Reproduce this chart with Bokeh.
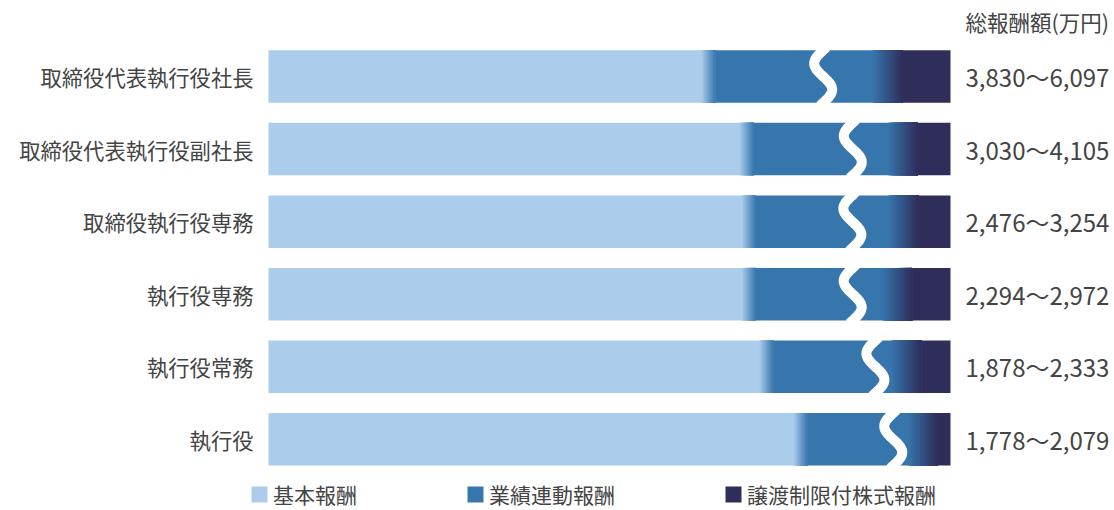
import numpy as np
from bokeh.plotting import figure
from bokeh.models import Range1d, ColumnDataSource, Legend, LegendItem
from bokeh.core.properties import value
from bokeh.embed import file_html
from bokeh.resources import INLINE

# ---------------- data ----------------
categories = ["取締役代表執行役社長", "取締役代表執行役副社長", "取締役執行役専務",
              "執行役専務", "執行役常務", "執行役"]
base_pay = [64.5, 70.1, 70.4, 70.4, 73.0, 78.0]          # 基本報酬 (%)
performance_pay = [26.3, 22.9, 22.7, 21.8, 20.5, 17.9]   # 業績連動報酬 (%)
stock_pay = [9.2, 7.0, 6.9, 7.8, 6.5, 4.1]               # 譲渡制限付株式報酬 (%)
total_ranges = ["3,830～6,097", "3,030～4,105", "2,476～3,254",
                "2,294～2,972", "1,878～2,333", "1,778～2,079"]
series_names = ["基本報酬", "業績連動報酬", "譲渡制限付株式報酬"]
header_text = "総報酬額(万円)"

# ---------------- style ----------------
FONT = "Noto Sans CJK JP"
TEXT_COLOR = "#444444"
C_BASE = "#abcdeb"
C_PERF = "#3776ad"
C_STOCK = "#2f2e5b"
BAR_H = 0.7235
GRAD1 = 2.1      # width of base->performance blend (data units)
GRAD2 = 4.4      # width of performance->stock blend
WAVE_FRAC = [0.64, 0.68, 0.67, 0.70, 0.78, 0.76]  # break mark placement inside performance segment
WAVE_AMP = 1.32

n = len(categories)
ypos = np.arange(n, dtype=float)
base = np.array(base_pay)
perf = np.array(performance_pay)
stock = np.array(stock_pay)
c1 = base
c2 = base + perf
c3 = c2 + stock

p = figure(width=1114, height=510, output_backend="svg", toolbar_location=None,
           x_range=Range1d(-39.296, 124.047), y_range=Range1d(5.981, -1.0474),
           min_border=0, outline_line_color=None)
p.xaxis.visible = False
p.yaxis.visible = False
p.xgrid.visible = False
p.ygrid.visible = False
p.background_fill_color = "white"
p.border_fill_color = "white"

src = ColumnDataSource(dict(y=ypos, z=np.zeros(n), c1=c1, c2=c2, c3=c3,
                            cat=categories, tot=total_ranges))
r_base = p.hbar(y="y", left="z", right="c1", height=BAR_H, source=src,
                fill_color=C_BASE, line_color=None)
r_perf = p.hbar(y="y", left="c1", right="c2", height=BAR_H, source=src,
                fill_color=C_PERF, line_color=None)
r_stock = p.hbar(y="y", left="c2", right="c3", height=BAR_H, source=src,
                 fill_color=C_STOCK, line_color=None)


def hex2rgb(h):
    h = h.lstrip("#")
    return np.array([int(h[i:i + 2], 16) for i in (0, 2, 4)], dtype=float)


def mix(a, b, t):
    ca, cb = hex2rgb(a), hex2rgb(b)
    c = ca + (cb - ca) * t
    return "#%02x%02x%02x" % tuple(int(round(v)) for v in c)


# gradient blends drawn as stacked strips
gl, gr, gt, gb, gc = [], [], [], [], []
for i in range(n):
    for (b, w, ca, cb, N) in ((c1[i], GRAD1, C_BASE, C_PERF, 14),
                              (c2[i], GRAD2, C_PERF, C_STOCK, 26)):
        start = b - w / 2
        for k in range(N):
            t = (k + 0.5) / N
            gl.append(start + w * k / N)
            gr.append(b + w / 2)
            gt.append(ypos[i] - BAR_H / 2)
            gb.append(ypos[i] + BAR_H / 2)
            gc.append(mix(ca, cb, t))
p.quad(left=gl, right=gr, top=gt, bottom=gb, fill_color=gc, line_color=None)

# white wavy break marks
xs, ys = [], []
tt = np.linspace(-0.06, 1.06, 60)
for i in range(n):
    xc = c1[i] + perf[i] * WAVE_FRAC[i]
    top = ypos[i] - BAR_H / 2
    ys.append(list(top + tt * BAR_H))
    xs.append(list(xc - WAVE_AMP * np.sin(2 * np.pi * tt)))
p.multi_line(xs=xs, ys=ys, line_color="white", line_width=10, line_cap="butt")

# category labels and totals
p.text(x=-2.2, y="y", text="cat", source=src, text_align="right",
       text_baseline="middle", text_font=value(FONT), text_font_size="21.3px",
       text_color=TEXT_COLOR)
p.text(x=102.2, y="y", text="tot", source=src, text_align="left",
       text_baseline="middle", text_font=value(FONT), text_font_size="24px",
       text_color=TEXT_COLOR)
p.text(x=[102.2], y=[-0.758], text=[header_text], text_align="left",
       text_baseline="middle", text_font=value(FONT), text_font_size="21.5px",
       text_color=TEXT_COLOR)

legend = Legend(items=[LegendItem(label=series_names[0], renderers=[r_base]),
                       LegendItem(label=series_names[1], renderers=[r_perf]),
                       LegendItem(label=series_names[2], renderers=[r_stock])],
                orientation="horizontal", location=(249, 1), spacing=108,
                glyph_width=20, glyph_height=20, label_standoff=4,
                padding=0, margin=0, border_line_color=None,
                background_fill_alpha=0, label_text_font=FONT,
                label_text_font_size="21px", label_text_color=TEXT_COLOR)
p.add_layout(legend)

open("out.html", "w").write(file_html(p, INLINE))
